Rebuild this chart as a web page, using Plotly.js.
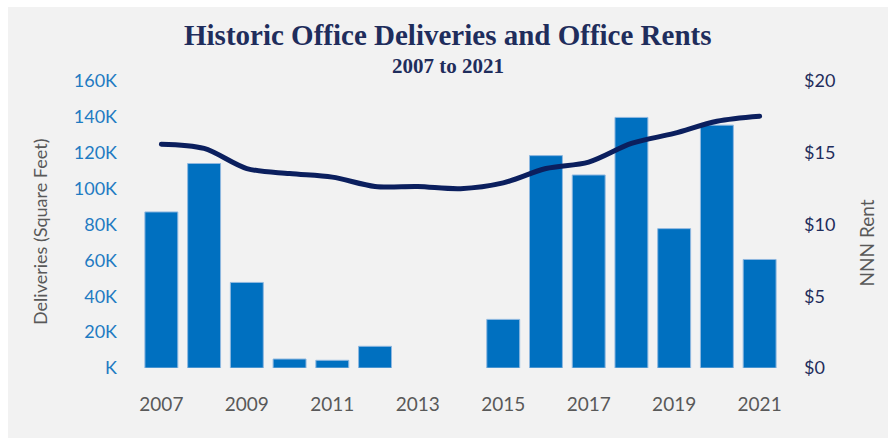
<!DOCTYPE html>
<html>
<head>
<meta charset="utf-8">
<script src="https://cdn.plot.ly/plotly-3.0.1.min.js"></script>
<style>
html,body{margin:0;padding:0;background:#ffffff;width:890px;height:438px;overflow:hidden;}
#chart{position:absolute;left:8px;top:7px;width:880px;height:431px;}
#chart .js-line{stroke-linecap:round !important;stroke-linejoin:round !important;}
</style>
</head>
<body>
<div id="chart"></div>
<script>
const years = ["2007","2008","2009","2010","2011","2012","2013","2014","2015","2016","2017","2018","2019","2020","2021"];
const deliveries = [87000,114000,47700,5000,4300,12100,0,0,27100,118400,107600,139700,77700,135400,60500];
const rent = [15.6,15.3,13.9,13.55,13.3,12.65,12.65,12.5,12.9,13.9,14.35,15.65,16.35,17.2,17.55];
const xTickVals = ["2007","2009","2011","2013","2015","2017","2019","2021"];
const yTickVals = [0,20000,40000,60000,80000,100000,120000,140000,160000];
const yTickText = ["K","20K","40K","60K","80K","100K","120K","140K","160K"];
const y2TickVals = [0,5,10,15,20];
const y2TickText = ["$0","$5","$10","$15","$20"];
const titleText = "Historic Office Deliveries and Office Rents";
const subtitleText = "2007 to 2021";
const yTitle = "Deliveries (Square Feet)";
const y2Title = "NNN Rent";

const traces = [
  {type:"bar", x:years, y:deliveries, name:"Deliveries",
   marker:{color:"#0070c0", line:{color:"#8fb8e0", width:deliveries.map(v => v > 0 ? 1 : 0)}}, hoverinfo:"x+y"},
  {type:"scatter", mode:"lines", x:years, y:rent, yaxis:"y2", name:"NNN Rent",
   line:{color:"#0b1f5e", width:5, shape:"spline", smoothing:0.9}}
];

const layout = {
  width:880, height:431,
  paper_bgcolor:"#f2f2f2", plot_bgcolor:"#f2f2f2",
  margin:{l:132, r:107, t:73.5, b:70, pad:0},
  showlegend:false,
  bargap:0.23,
  font:{family:"Lato, 'Open Sans', sans-serif"},
  xaxis:{type:"category", tickvals:xTickVals, ticktext:xTickVals,
    showgrid:false, zeroline:false, showline:false, ticks:"",
    ticklabelstandoff:23,
    tickfont:{family:"Lato, sans-serif", size:19, color:"#595959"}},
  yaxis:{range:[0,160000], tickvals:yTickVals, ticktext:yTickText,
    showgrid:false, zeroline:false, showline:false, ticks:"",
    ticklabelstandoff:22,
    tickfont:{family:"Lato, sans-serif", size:18, color:"#1f7bc2"}},
  yaxis2:{range:[0,20], overlaying:"y", side:"right", tickvals:y2TickVals, ticktext:y2TickText,
    showgrid:false, zeroline:false, showline:false, ticks:"",
    ticklabelstandoff:22,
    tickfont:{family:"Lato, sans-serif", size:18, color:"#1f2d5c"}},
  annotations:[
    {text:"<b>"+titleText+"</b>", xref:"paper", yref:"paper", x:0.48, y:1.16,
     xanchor:"center", yanchor:"middle", showarrow:false,
     font:{family:"'Liberation Serif', serif", size:29, color:"#1f2d5c"}},
    {text:"<b>"+subtitleText+"</b>", xref:"paper", yref:"paper", x:0.48, y:1.052,
     xanchor:"center", yanchor:"middle", showarrow:false,
     font:{family:"'Liberation Serif', serif", size:21, color:"#1f2d5c"}},
    {text:yTitle, xref:"paper", yref:"paper", x:-0.156, y:0.474, textangle:-90,
     xanchor:"center", yanchor:"middle", showarrow:false,
     font:{family:"Lato, sans-serif", size:18, color:"#595959"}},
    {text:y2Title, xref:"paper", yref:"paper", x:1.134, y:0.437, textangle:-90,
     xanchor:"center", yanchor:"middle", showarrow:false,
     font:{family:"Lato, sans-serif", size:19, color:"#595959"}}
  ]
};

Plotly.newPlot("chart", traces, layout, {displayModeBar:false, staticPlot:true});
</script>
</body>
</html>
